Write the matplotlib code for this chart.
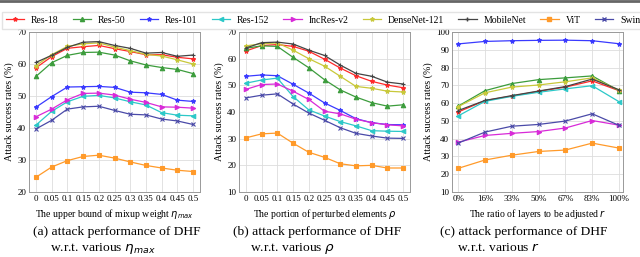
import numpy as np
import matplotlib
matplotlib.use("Agg")
import matplotlib.pyplot as plt
from matplotlib.lines import Line2D

plt.rcParams.update({"font.family": ["Liberation Serif", "DejaVu Serif"],
                     "mathtext.fontset": "dejavusans", "font.size": 7})

models = ["Res-18", "Res-50", "Res-101", "Res-152", "IncRes-v2",
          "DenseNet-121", "MobileNet", "ViT", "Swin"]
colors = ["#ff2a2a", "#3c9c3c", "#3a3aff", "#2cc8c8", "#d82ad8",
          "#c8c83a", "#444444", "#ff9a2a", "#4a4aa8"]
markers = ["*", "^", "*", "<", ">", "*", "+", "s", "x"]

# (a) upper bound of mixup weight
eta = [0, 0.05, 0.1, 0.15, 0.2, 0.25, 0.3, 0.35, 0.4, 0.45, 0.5]
eta_labels = ["0", "0.05", "0.1", "0.15", "0.2", "0.25", "0.3", "0.35", "0.4", "0.45", "0.5"]
a_vals = [
    [58.8, 62.3, 64.9, 65.4, 65.8, 64.8, 63.9, 62.9, 62.9, 62.1, 61.6],   # Res-18
    [56.1, 60.4, 62.7, 63.6, 63.7, 62.8, 61.0, 59.7, 58.9, 58.3, 57.0],   # Res-50
    [46.5, 49.8, 52.8, 52.9, 53.0, 52.7, 51.2, 51.0, 50.5, 48.7, 48.3],   # Res-101
    [40.9, 45.2, 48.2, 49.9, 50.2, 49.4, 48.2, 47.2, 44.8, 44.0, 43.8],   # Res-152
    [43.5, 45.9, 48.8, 50.8, 50.9, 50.3, 49.0, 48.0, 46.6, 46.5, 46.2],   # IncRes-v2
    [59.5, 62.9, 65.5, 66.3, 66.6, 65.3, 64.2, 63.0, 62.5, 61.3, 60.0],   # DenseNet-121
    [60.5, 62.7, 65.2, 66.8, 67.0, 65.8, 64.9, 63.4, 63.6, 62.4, 62.8],   # MobileNet
    [24.6, 27.8, 29.8, 31.1, 31.5, 30.6, 29.4, 28.3, 27.5, 26.8, 26.4],   # ViT
    [39.7, 42.4, 45.9, 46.6, 46.8, 45.5, 44.3, 44.1, 42.8, 42.2, 41.1],   # Swin
]

# (b) portion of perturbed elements
rho = [0, 0.05, 0.1, 0.15, 0.2, 0.25, 0.3, 0.35, 0.4, 0.45, 0.5]
b_vals = [
    [62.9, 64.9, 65.3, 64.6, 62.8, 59.8, 56.5, 53.6, 51.5, 50.1, 49.1],   # Res-18
    [63.9, 64.8, 64.6, 60.5, 56.6, 52.1, 48.3, 45.6, 43.5, 42.2, 42.7],   # Res-50
    [53.4, 53.9, 53.6, 50.4, 47.1, 43.4, 40.6, 37.5, 36.0, 35.3, 35.2],   # Res-101
    [50.8, 52.0, 52.7, 45.8, 40.8, 38.5, 36.4, 34.8, 33.0, 32.8, 32.7],   # Res-152
    [48.5, 50.3, 50.5, 47.8, 44.7, 40.3, 39.3, 37.3, 36.0, 35.2, 34.8],   # IncRes-v2
    [64.8, 65.6, 65.9, 63.2, 60.0, 57.2, 53.4, 49.6, 48.9, 47.8, 47.5],   # DenseNet-121
    [64.0, 66.0, 66.2, 65.5, 63.2, 61.2, 57.6, 54.5, 53.4, 51.2, 50.5],   # MobileNet
    [30.3, 31.8, 32.1, 28.3, 24.9, 23.0, 20.6, 19.8, 20.0, 19.0, 19.0],   # ViT
    [45.3, 46.3, 46.8, 43.0, 39.6, 36.9, 34.1, 32.0, 31.0, 30.2, 30.1],   # Swin
]

# (c) ratio of layers to be adjusted
r_labels = ["0%", "16%", "33%", "50%", "67%", "83%", "100%"]
c_vals = [
    [55.0, 61.4, 64.0, 66.6, 69.0, 72.5, 67.0],   # Res-18
    [58.3, 67.0, 71.0, 73.2, 74.2, 75.3, 67.0],   # Res-50
    [93.3, 94.7, 95.1, 95.3, 95.4, 95.1, 93.4],   # Res-101
    [52.8, 61.0, 63.8, 66.1, 68.0, 69.8, 60.8],   # Res-152
    [38.0, 41.8, 43.0, 44.0, 46.0, 50.2, 47.6],   # IncRes-v2
    [58.0, 65.8, 69.0, 70.2, 72.0, 74.2, 67.3],   # DenseNet-121
    [55.8, 61.5, 64.2, 66.8, 69.3, 73.5, 67.5],   # MobileNet
    [23.3, 28.0, 30.7, 32.8, 33.6, 37.5, 34.7],   # ViT
    [37.5, 43.7, 47.0, 48.0, 49.9, 54.0, 47.5],   # Swin
]

fig = plt.figure(figsize=(6.4, 2.57), dpi=100)
W, H = 640, 257


def add_ax(x0, x1, y0, y1):
    return fig.add_axes([x0 / W, 1 - y1 / H, (x1 - x0) / W, (y1 - y0) / H])


def style(ax):
    ax.grid(True, color="#dddddd", lw=0.6)
    ax.set_axisbelow(True)
    for s in ax.spines.values():
        s.set_color("#999999")
        s.set_linewidth(0.7)
    ax.tick_params(length=0, labelsize=6.5, pad=2)
    ax.set_ylabel("Attack success rates (%)", fontsize=7.2, labelpad=2)


def draw(ax, x, vals):
    for v, c, m in zip(vals, colors, markers):
        ax.plot(x, v, color=c, marker=m, ms=3.2, lw=0.9, mew=0.8)


ax1 = add_ax(29, 200, 32, 192)
draw(ax1, eta, a_vals)
ax1.set_xlim(-0.022, 0.522); ax1.set_ylim(20, 70)
ax1.set_xticks(eta, eta_labels); ax1.set_yticks(range(20, 71, 10))
ax1.set_xlabel(r"The upper bound of mixup weight $\eta_{max}$", fontsize=7, labelpad=3)
style(ax1)

ax2 = add_ax(239, 410, 32, 192)
draw(ax2, rho, b_vals)
ax2.set_xlim(-0.022, 0.522); ax2.set_ylim(10, 70)
ax2.set_xticks(rho, eta_labels); ax2.set_yticks(range(10, 71, 10))
ax2.set_xlabel(r"The portion of perturbed elements $\rho$", fontsize=7, labelpad=3)
style(ax2)

ax3 = add_ax(452, 623, 32, 192)
draw(ax3, range(len(r_labels)), c_vals)
ax3.set_xlim(-0.23, 6.15); ax3.set_ylim(10, 100)
ax3.set_xticks(range(len(r_labels)), r_labels); ax3.set_yticks(range(10, 101, 10))
ax3.set_xlabel(r"The ratio of layers to be adjusted $r$", fontsize=7, labelpad=3)
style(ax3)

# legend runs past the right edge in the original too (Swin is clipped)
handles = [Line2D([], [], color=c, marker=m, ms=3, lw=0.9) for c, m in zip(colors, markers)]
fig.legend(handles, models, ncol=9, loc="upper left", bbox_to_anchor=(-3 / W, 1 - 7 / H),
           fontsize=7, frameon=True, edgecolor="#dddddd", fancybox=False,
           handlelength=1.9, handletextpad=0.7, columnspacing=1.45, borderpad=0.4)

fig.add_artist(Line2D([0, 1], [1 - 1 / H, 1 - 1 / H], color="#666666", lw=2,
                      transform=fig.transFigure))

caps = [("(a) attack performance of DHF", r"w.r.t. various $\eta_{max}$", 33),
        ("(b) attack performance of DHF", r"w.r.t. various $\rho$", 233),
        ("(c) attack performance of DHF", r"w.r.t. various $r$", 440)]
for l1, l2, x in caps:
    fig.text(x / W, 1 - 232 / H, l1, fontsize=9.7, ha="left", va="center")
    fig.text((x + 17) / W, 1 - 248 / H, l2, fontsize=9.7, ha="left", va="center")

fig.savefig("out.png", dpi=100)
